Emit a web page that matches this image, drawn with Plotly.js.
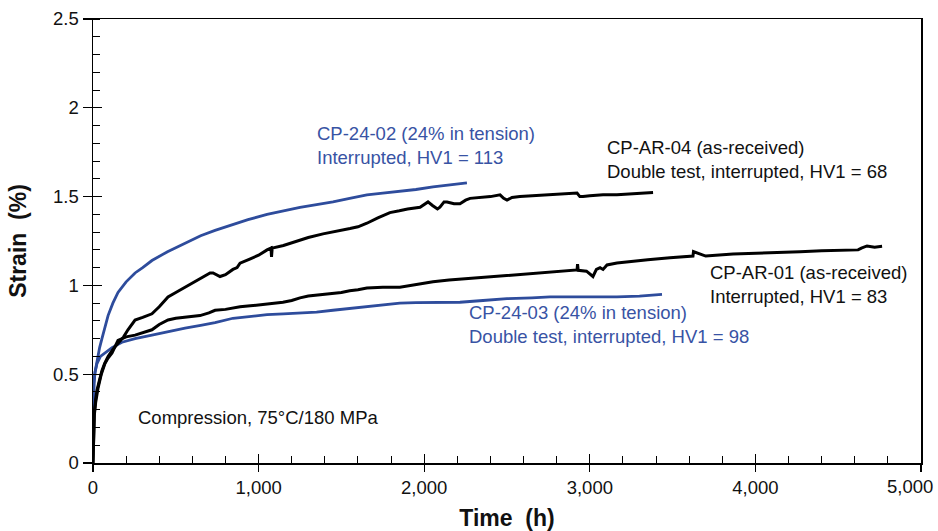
<!DOCTYPE html>
<html>
<head>
<meta charset="utf-8">
<script src="https://cdn.plot.ly/plotly-3.0.1.min.js"></script>
<style>html,body{margin:0;padding:0;background:#fff;}#chart{width:938px;height:531px;}</style>
</head>
<body>
<div id="chart"></div>
<script>
// CP-24-02 (24% in tension), interrupted, HV1 = 113
const t_CP2402 = [0, 2, 6, 12, 24, 40, 54, 70, 91, 120, 151, 200, 254, 300, 356, 450, 556, 650, 737, 836, 936, 1051, 1150, 1250, 1350, 1449, 1550, 1654, 1750, 1853, 1950, 2053, 2150, 2216, 2258];
const e_CP2402 = [0.25, 0.36, 0.45, 0.51, 0.58, 0.65, 0.70, 0.76, 0.83, 0.90, 0.96, 1.02, 1.07, 1.10, 1.14, 1.19, 1.24, 1.28, 1.31, 1.34, 1.37, 1.40, 1.42, 1.44, 1.455, 1.47, 1.49, 1.51, 1.52, 1.53, 1.54, 1.555, 1.565, 1.57, 1.577];

// CP-24-03 (24% in tension), double test, interrupted, HV1 = 98
const t_CP2403 = [0, 2, 6, 12, 24, 45, 72, 115, 175, 254, 356, 450, 556, 650, 737, 845, 950, 1051, 1150, 1250, 1350, 1449, 1550, 1654, 1750, 1853, 1950, 2053, 2216, 2355, 2500, 2650, 2760, 2900, 3050, 3164, 3300, 3424, 3436];
const e_CP2403 = [0.25, 0.36, 0.45, 0.51, 0.56, 0.60, 0.62, 0.65, 0.68, 0.70, 0.72, 0.74, 0.76, 0.775, 0.79, 0.815, 0.825, 0.835, 0.84, 0.845, 0.85, 0.86, 0.87, 0.88, 0.89, 0.90, 0.903, 0.905, 0.905, 0.915, 0.925, 0.93, 0.935, 0.935, 0.935, 0.935, 0.94, 0.946, 0.95];

// CP-AR-04 (as-received), double test, interrupted, HV1 = 68
const t_CPAR04 = [0, 3, 8, 16, 24, 40, 54, 70, 91, 120, 151, 185, 211, 254, 300, 356, 400, 453, 500, 556, 600, 658, 707, 725, 745, 767, 800, 845, 870, 888, 950, 1000, 1051, 1075, 1078, 1082, 1150, 1200, 1250, 1300, 1389, 1450, 1500, 1552, 1600, 1654, 1720, 1793, 1850, 1900, 1975, 2005, 2023, 2050, 2080, 2095, 2120, 2138, 2180, 2216, 2250, 2277, 2350, 2400, 2458, 2480, 2500, 2530, 2578, 2650, 2750, 2850, 2923, 2940, 2959, 3000, 3080, 3164, 3250, 3330, 3382];
const e_CPAR04 = [0, 0.15, 0.28, 0.36, 0.41, 0.47, 0.52, 0.56, 0.60, 0.64, 0.675, 0.71, 0.75, 0.805, 0.82, 0.84, 0.88, 0.935, 0.96, 0.99, 1.01, 1.04, 1.07, 1.07, 1.06, 1.05, 1.06, 1.09, 1.10, 1.125, 1.15, 1.17, 1.20, 1.21, 1.16, 1.21, 1.225, 1.24, 1.255, 1.27, 1.29, 1.30, 1.31, 1.32, 1.33, 1.35, 1.38, 1.41, 1.42, 1.43, 1.44, 1.46, 1.47, 1.45, 1.43, 1.44, 1.47, 1.47, 1.46, 1.46, 1.48, 1.49, 1.495, 1.50, 1.51, 1.49, 1.48, 1.495, 1.50, 1.505, 1.51, 1.515, 1.52, 1.50, 1.50, 1.505, 1.51, 1.51, 1.515, 1.52, 1.523];

// CP-AR-01 (as-received), interrupted, HV1 = 83
const t_CPAR01 = [0, 3, 8, 16, 30, 50, 72, 90, 115, 151, 200, 254, 300, 356, 400, 453, 500, 556, 600, 646, 700, 737, 800, 888, 950, 1000, 1050, 1100, 1147, 1200, 1250, 1300, 1350, 1449, 1500, 1550, 1600, 1654, 1750, 1853, 1950, 2053, 2150, 2216, 2300, 2458, 2560, 2660, 2760, 2850, 2923, 2926, 2930, 2980, 3019, 3040, 3062, 3080, 3104, 3164, 3250, 3350, 3484, 3600, 3623, 3626, 3700, 3865, 4000, 4150, 4269, 4400, 4571, 4620, 4640, 4674, 4720, 4765];
const e_CPAR01 = [0, 0.15, 0.27, 0.34, 0.42, 0.50, 0.56, 0.59, 0.62, 0.69, 0.71, 0.72, 0.735, 0.75, 0.78, 0.805, 0.815, 0.82, 0.825, 0.83, 0.845, 0.86, 0.865, 0.88, 0.885, 0.89, 0.895, 0.90, 0.905, 0.915, 0.93, 0.94, 0.945, 0.955, 0.96, 0.97, 0.975, 0.985, 0.99, 0.99, 1.005, 1.02, 1.03, 1.035, 1.04, 1.05, 1.06, 1.065, 1.075, 1.08, 1.087, 1.12, 1.085, 1.08, 1.05, 1.09, 1.10, 1.09, 1.115, 1.126, 1.135, 1.145, 1.155, 1.165, 1.165, 1.19, 1.165, 1.177, 1.18, 1.185, 1.19, 1.195, 1.20, 1.20, 1.21, 1.222, 1.215, 1.22];

const xTickVals = [0, 1000, 2000, 3000, 4000, 5000];
const xTickText = ["0", "1,000", "2,000", "3,000", "4,000", "5,000"];
const yTickVals = [0, 0.5, 1, 1.5, 2, 2.5];
const yTickText = ["0", "0.5", "1", "1.5", "2", "2.5"];

const BLUE = "#2E4C9C";
const BLUE_TXT = "#3853A4";
const FONT = "Liberation Sans, Arial, sans-serif";

const traces = [
  {x: t_CP2402, y: e_CP2402, mode: "lines", line: {color: BLUE, width: 2.8}, hoverinfo: "skip"},
  {x: t_CP2403, y: e_CP2403, mode: "lines", line: {color: BLUE, width: 2.8}, hoverinfo: "skip"},
  {x: t_CPAR04, y: e_CPAR04, mode: "lines", line: {color: "#000", width: 3}, hoverinfo: "skip"},
  {x: t_CPAR01, y: e_CPAR01, mode: "lines", line: {color: "#000", width: 3}, hoverinfo: "skip"},
  {x: [], y: [], xaxis: "x2", yaxis: "y2", mode: "lines", hoverinfo: "skip"}
];

const ann = (x, y, text, color) => ({
  xref: "paper", yref: "paper", x: x, y: y, xanchor: "left", yanchor: "middle",
  align: "left", showarrow: false, text: text,
  font: {family: FONT, size: 18.5, color: color}
});

// last x tick label sits at the page edge: draw it right-aligned inside the page
const lastIdx = xTickText.length - 1;
const shownXTickText = xTickText.map((s, i) => i === lastIdx ? "" : s);

const layout = {
  width: 938, height: 531,
  margin: {l: 93, r: 17, t: 19, b: 68},
  paper_bgcolor: "#fff", plot_bgcolor: "#fff",
  showlegend: false,
  font: {family: FONT, size: 18.5, color: "#111"},
  xaxis: {
    range: [0, 5000], tickvals: xTickVals, ticktext: shownXTickText,
    ticks: "outside", ticklen: 7, tickwidth: 1.3, tickcolor: "#000",
    ticklabeloverflow: "allow",
    minor: {ticks: "inside", ticklen: 7, dtick: 200, tick0: 0, tickcolor: "#000", tickwidth: 1},
    showline: true, linecolor: "#000", linewidth: 1.5, mirror: true,
    showgrid: false, zeroline: false,
    tickfont: {family: FONT, size: 18.5, color: "#111"},
    title: {text: "Time\u00a0 (h)", font: {family: FONT, size: 23, color: "#111", weight: "bold"}, standoff: 13}
  },
  yaxis: {
    range: [0, 2.5], tickvals: yTickVals, ticktext: yTickText,
    ticks: "outside", ticklen: 9, tickwidth: 1.3, tickcolor: "#000",
    ticklabeloverflow: "allow",
    minor: {ticks: "inside", ticklen: 7, dtick: 0.1, tick0: 0, tickcolor: "#000", tickwidth: 1},
    showline: true, linecolor: "#000", linewidth: 1.5, mirror: true,
    showgrid: false, zeroline: false,
    tickfont: {family: FONT, size: 18.5, color: "#111"},
    title: {text: "Strain\u00a0 (%)", font: {family: FONT, size: 23, color: "#111", weight: "bold"}, standoff: 20}
  },
  xaxis2: {
    overlaying: "x", anchor: "y2", range: [0, 5000], tickvals: xTickVals,
    ticks: "inside", ticklen: 9, tickwidth: 1.3, tickcolor: "#000",
    showticklabels: false, showline: false, showgrid: false, zeroline: false
  },
  yaxis2: {
    overlaying: "y", anchor: "x2", range: [0, 2.5], tickvals: yTickVals,
    ticks: "inside", ticklen: 9, tickwidth: 1.3, tickcolor: "#000",
    showticklabels: false, showline: false, showgrid: false, zeroline: false
  },
  annotations: [
    ann(0.268, 0.714, "CP-24-02 (24% in tension)<br>Interrupted, HV1 = 113", BLUE_TXT),
    ann(0.618, 0.684, "CP-AR-04 (as-received)<br>Double test, interrupted, HV1 = 68", "#111"),
    ann(0.743, 0.402, "CP-AR-01 (as-received)<br>Interrupted, HV1 = 83", "#111"),
    ann(0.452, 0.312, "CP-24-03 (24% in tension)<br>Double test, interrupted, HV1 = 98", BLUE_TXT),
    ann(0.052, 0.1036, "Compression, 75°C/180 MPa", "#111"),
    {xref: "paper", yref: "paper", x: 1.0175, y: -0.054, xanchor: "right", yanchor: "middle",
     showarrow: false, text: xTickText[lastIdx], font: {family: FONT, size: 18.5, color: "#111"}}
  ]
};

Plotly.newPlot("chart", traces, layout, {staticPlot: true, displayModeBar: false});
</script>
</body>
</html>
